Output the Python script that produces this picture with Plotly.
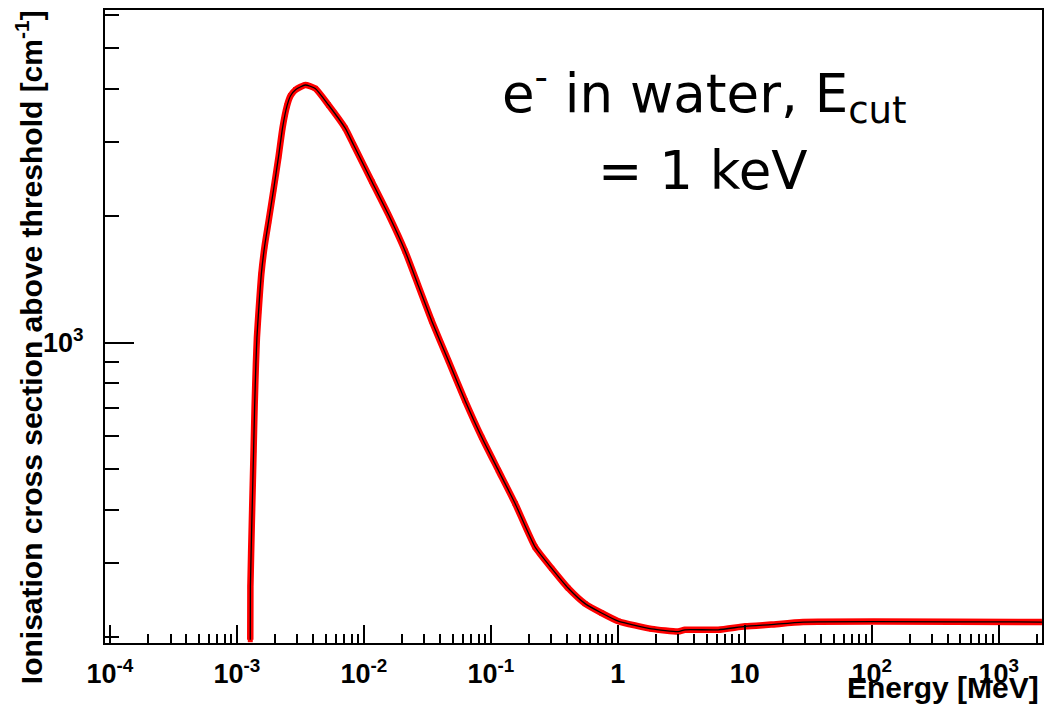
import plotly.graph_objects as go

# Ionisation cross section of electrons in water above a 1 keV cut
energy_mev = [1.274e-3, 1.277e-3, 1.312e-3, 1.353e-3, 1.378e-3, 1.411e-3, 1.437e-3,
              1.482e-3, 1.556e-3, 1.652e-3, 1.776e-3, 1.945e-3, 2.129e-3, 2.289e-3,
              2.483e-3, 2.647e-3, 2.897e-3, 3.454e-3, 4.140e-3, 5.266e-3, 7.127e-3,
              8.288e-3, 1.155e-2, 1.562e-2, 2.114e-2, 2.691e-2, 3.424e-2, 4.634e-2,
              6.272e-2, 8.475e-2, 0.1147, 0.1552, 0.2230, 0.3013, 0.4077, 0.5518,
              0.7455, 1.009, 1.365, 1.845, 2.992, 3.379, 6.178, 10.08, 16.14, 28.83,
              2188]
cross_section = [197, 263, 379, 554, 702, 889, 1027,
                 1188, 1452, 1693, 1941, 2311, 2766, 3239,
                 3652, 3856, 3985, 4088, 4012, 3665, 3228,
                 2948, 2413, 2013, 1648, 1362, 1125, 905,
                 728, 596, 497, 415, 327, 291, 261, 240,
                 228, 218, 213, 209, 206, 208, 208, 212, 214, 217,
                 217]

x_major = [1e-4, 1e-3, 1e-2, 1e-1, 1, 10, 100, 1000]
x_labels = ["10<sup>-4</sup>", "10<sup>-3</sup>", "10<sup>-2</sup>", "10<sup>-1</sup>",
            "1", "10", "10<sup>2</sup>", "10<sup>3</sup>"]
x_minor = [k * 10.0 ** n for n in range(-4, 4) for k in range(2, 10)]
y_major = [1000]
y_labels = ["10<sup>3</sup>"]
y_minor = [200, 300, 400, 500, 600, 700, 800, 900, 2000, 3000, 4000, 5000, 6000]

W, H = 1052, 711
L, R, T, B = 105, 8, 8, 68
pw, ph = W - L - R, H - T - B


def px_x(p):
    return (p - L) / pw


def px_y(p):
    return (H - B - p) / ph


fig = go.Figure()
# red marker band underneath
fig.add_trace(go.Scatter(
    x=energy_mev, y=cross_section, mode="lines+markers",
    line=dict(color="#ff0000", width=6.5, shape="spline", smoothing=0.5),
    marker=dict(color="#ff0000", size=5, symbol="square"),
    hoverinfo="skip", showlegend=False))
# black connecting line on top
fig.add_trace(go.Scatter(
    x=energy_mev, y=cross_section, mode="lines",
    line=dict(color="black", width=1.3, shape="spline", smoothing=0.5),
    showlegend=False))

tick_font = dict(family="Liberation Sans, Arial, sans-serif", size=27,
                 color="black", weight="bold")

fig.update_xaxes(
    type="log", range=[-4.039, 3.341],
    showline=True, linecolor="black", linewidth=2, mirror=True,
    showgrid=False, zeroline=False,
    ticks="inside", ticklen=18, tickwidth=1.5, tickcolor="black",
    tickvals=x_major, ticktext=x_labels, tickfont=tick_font,
    ticklabelstandoff=6,
    minor=dict(tickvals=x_minor, ticks="inside", ticklen=9, tickwidth=1.5,
               tickcolor="black", showgrid=False),
)
fig.update_yaxes(
    type="log", range=[2.2867, 3.7896],
    showline=True, linecolor="black", linewidth=2, mirror=True,
    showgrid=False, zeroline=False,
    ticks="inside", ticklen=29, tickwidth=1.5, tickcolor="black",
    tickvals=y_major, ticktext=y_labels, tickfont=tick_font,
    ticklabelstandoff=14,
    minor=dict(tickvals=y_minor, ticks="inside", ticklen=14, tickwidth=1.5,
               tickcolor="black", showgrid=False),
)

title_font = dict(family="Liberation Sans, Arial, sans-serif", size=30,
                  color="black", weight="bold")
note_font = dict(family="DejaVu Sans, Verdana, sans-serif", size=53, color="black")

fig.update_layout(
    width=W, height=H,
    margin=dict(l=L, r=R, t=T, b=B, pad=0),
    paper_bgcolor="white", plot_bgcolor="white",
    annotations=[
        dict(text="Ionisation cross section above threshold [cm<sup>-1</sup>]",
             xref="paper", yref="paper", x=px_x(29), y=px_y(6),
             xanchor="center", yanchor="top", textangle=-90,
             showarrow=False, font=title_font),
        dict(text="Energy [MeV]",
             xref="paper", yref="paper", x=px_x(1043), y=px_y(688),
             xanchor="right", yanchor="middle",
             showarrow=False, font=title_font),
        dict(text="e<sup>-</sup> in water, E<sub>cut</sub>",
             xref="paper", yref="paper", x=px_x(706), y=px_y(92),
             xanchor="center", yanchor="middle",
             showarrow=False, font=note_font),
        dict(text="= 1 keV",
             xref="paper", yref="paper", x=px_x(704), y=px_y(169),
             xanchor="center", yanchor="middle",
             showarrow=False, font=note_font),
    ],
)

fig.write_html("out.html")
